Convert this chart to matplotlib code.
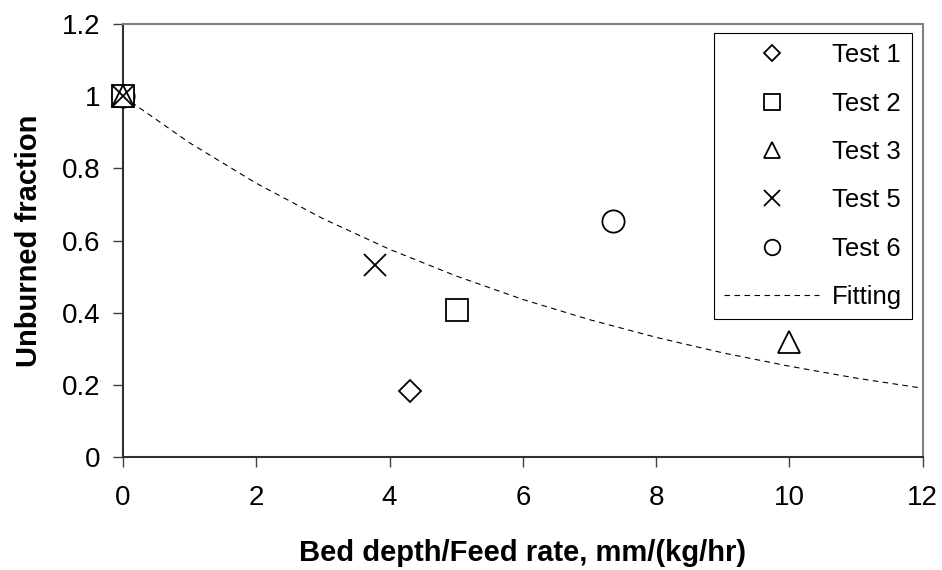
import matplotlib.pyplot as plt

plt.rcParams['font.family'] = ['Liberation Sans', 'DejaVu Sans']

# measured points (first point of every test sits at x=0, y=1)
test1_x = [0, 4.30]
test1_y = [1, 0.183]
test2_x = [0, 5.01]
test2_y = [1, 0.407]
test3_x = [0, 9.99]
test3_y = [1, 0.319]
test5_x = [0, 3.78]
test5_y = [1, 0.532]
test6_x = [0, 7.35]
test6_y = [1, 0.654]

# fitted curve
fit_x = [0, 1, 2, 3, 4, 5, 6, 7, 8, 9, 10, 11, 12]
fit_y = [1.0, 0.871, 0.759, 0.661, 0.576, 0.502, 0.437, 0.381, 0.332, 0.289, 0.252, 0.219, 0.191]

xticks = [0, 2, 4, 6, 8, 10, 12]
yticks = [0, 0.2, 0.4, 0.6, 0.8, 1.0, 1.2]
ytick_labels = ['0', '0.2', '0.4', '0.6', '0.8', '1', '1.2']

fig = plt.figure(figsize=(9.42, 5.7), dpi=100)
ax = fig.add_axes([0.1306, 0.198, 0.849, 0.7596])

mk = dict(linestyle='none', markerfacecolor='white', markeredgecolor='black',
          markeredgewidth=1.3, clip_on=False, zorder=3)
ax.plot(test6_x, test6_y, marker='o', markersize=16, label='Test 6', **mk)
ax.plot(test1_x, test1_y, marker='D', markersize=11.7, label='Test 1', **mk)
ax.plot(test2_x, test2_y, marker='s', markersize=16.5, label='Test 2', **mk)
ax.plot(test3_x, test3_y, marker='^', markersize=16.5, label='Test 3', **mk)
ax.plot(test5_x, test5_y, marker='x', markersize=16, label='Test 5', **mk)
ax.plot(fit_x, fit_y, color='black', linestyle=(0, (5, 4)), linewidth=0.8, label='Fitting')

ax.set_xlim(0, 12)
ax.set_ylim(0, 1.2)
ax.set_xticks(xticks)
ax.set_xticklabels([str(t) for t in xticks])
ax.set_yticks(yticks)
ax.set_yticklabels(ytick_labels)
ax.tick_params(axis='x', direction='out', length=7, width=1, color='#404040',
               labelsize=20, pad=13)
ax.tick_params(axis='y', direction='out', length=7, width=1, color='#404040',
               labelsize=20, pad=9)

for side in ['left', 'bottom']:
    ax.spines[side].set_color('#303030')
    ax.spines[side].set_linewidth(1.5)
for side in ['top', 'right']:
    ax.spines[side].set_color('#808080')
    ax.spines[side].set_linewidth(1.5)

ax.set_xlabel('Bed depth/Feed rate, mm/(kg/hr)', fontsize=21, fontweight='bold', labelpad=20)
ax.set_ylabel('Unburned fraction', fontsize=21, fontweight='bold', labelpad=14)

# legend order as in the original
handles, labels = ax.get_legend_handles_labels()
order = ['Test 1', 'Test 2', 'Test 3', 'Test 5', 'Test 6', 'Fitting']
hmap = dict(zip(labels, handles))
leg = ax.legend([hmap[k] for k in order], order,
                loc='upper right', bbox_to_anchor=(0.987, 0.98), borderaxespad=0,
                fontsize=18.5, markerscale=0.7, numpoints=1, handlelength=3.7,
                handletextpad=0.5, labelspacing=0.95, borderpad=0.4,
                fancybox=False, framealpha=1, edgecolor='black')
leg.get_frame().set_linewidth(0.8)

fig.savefig('out.png', dpi=100)
